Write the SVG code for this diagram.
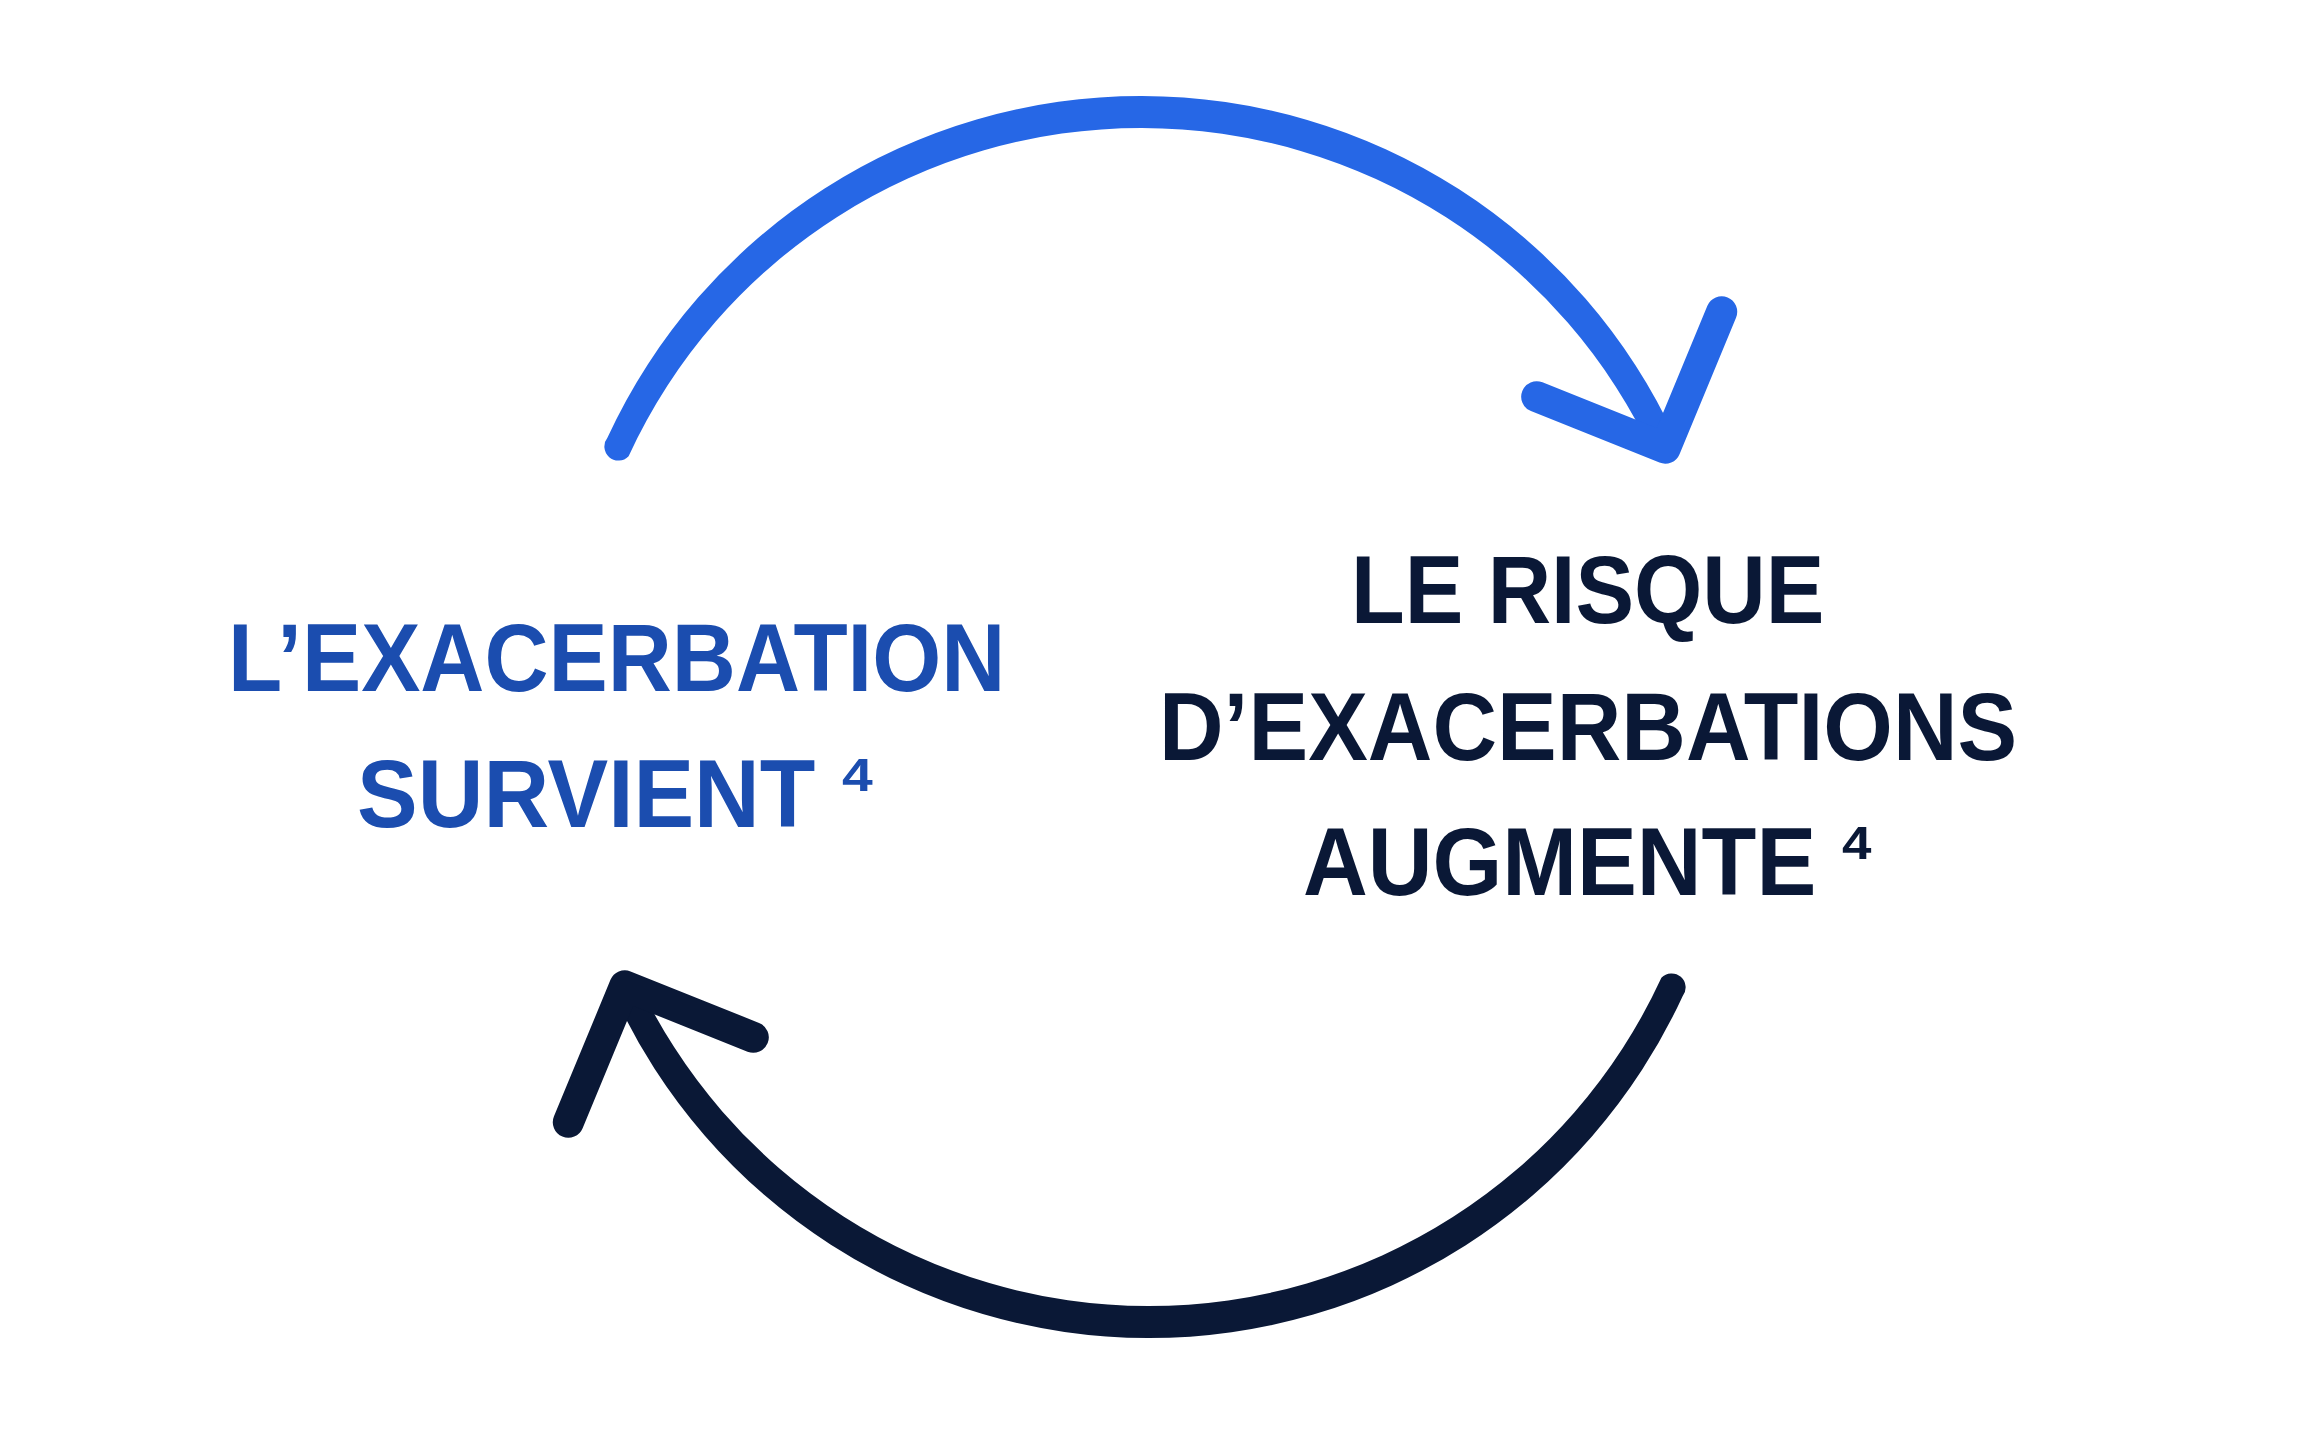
<svg xmlns="http://www.w3.org/2000/svg" width="2321" height="1433" viewBox="0 0 2321 1433">
  <style>
    .lbl { font-family: "Liberation Sans", Arial, sans-serif; font-weight: bold; font-size: 96px; }
    .sup { font-family: "Liberation Sans", Arial, sans-serif; font-weight: bold; font-size: 46px; }
    .blueTxt { fill: #1B4DAF; }
    .navyTxt { fill: #0A1836; }
    .head { fill: none; stroke-width: 31; stroke-linecap: round; stroke-linejoin: round; }
  </style>
  <rect x="0" y="0" width="2321" height="1433" fill="#ffffff"/>

  <g id="connectors">
    <g id="arrow-top">
      <path d="M 607.4,437.8 A 587.9 587.9 0 0 1 1675.8,439.0 A 14.05 14.05 0 0 1 1654.5,457.4 A 564.5 564.5 0 0 0 628.6,456.2 A 14.05 14.05 0 0 1 607.4,437.8 Z" fill="#2667E6"/>
      <path class="head" d="M 1536.7,396.7 L 1665.2,448.2 L 1721.7,311.7" stroke="#2667E6"/>
    </g>
    <g id="arrow-bottom">
      <path d="M 1682.6,996.2 A 587.9 587.9 0 0 1 614.2,995.0 A 14.05 14.05 0 0 1 635.5,976.6 A 564.5 564.5 0 0 0 1661.4,977.8 A 14.05 14.05 0 0 1 1682.6,996.2 Z" fill="#0A1836"/>
      <path class="head" d="M 753.3,1037.3 L 624.8,985.8 L 568.3,1122.3" stroke="#0A1836"/>
    </g>
  </g>

  <g id="node-left">
    <text class="lbl blueTxt" transform="translate(228 691) scale(0.9245 1)">L’EXACERBATION</text>
    <text class="lbl blueTxt" transform="translate(357 827) scale(0.948 1)">SURVIENT</text>
    <text class="sup blueTxt" transform="translate(842 791) scale(1.2 1)">4</text>
  </g>

  <g id="node-right">
    <text class="lbl navyTxt" transform="translate(1351 623) scale(0.915 1)">LE RISQUE</text>
    <text class="lbl navyTxt" transform="translate(1159 760) scale(0.932 1)">D’EXACERBATIONS</text>
    <text class="lbl navyTxt" transform="translate(1303 895) scale(0.9344 1)">AUGMENTE</text>
    <text class="sup navyTxt" transform="translate(1842 859) scale(1.15 1)">4</text>
  </g>
</svg>
